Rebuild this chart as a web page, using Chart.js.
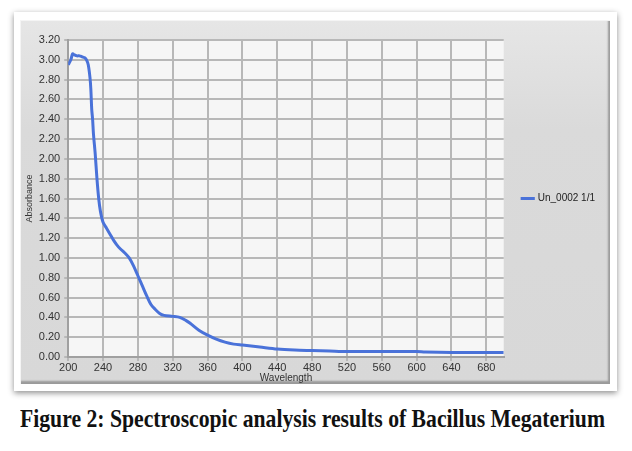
<!DOCTYPE html>
<html>
<head>
<meta charset="utf-8">
<script src="https://cdn.jsdelivr.net/npm/chart.js@4/dist/chart.umd.min.js"></script>
<style>
  body { margin: 0; background: #fff; width: 632px; height: 451px; position: relative; overflow: hidden; }
  .card {
    position: absolute; left: 14px; top: 12px; width: 603px; height: 379px;
    background: #fff; box-shadow: 0 2px 6px rgba(0,0,0,0.45);
  }
  .panel {
    position: absolute; left: 20px; top: 20px; width: 590px; height: 364px;
    background: linear-gradient(#e6e6e6, #dadada 30%, #d8d8d8);
    box-shadow: inset 1px 1px 0 #f4f4f4, inset -2px -3px 2px #9a9a9a;
  }
  .panel canvas { position: absolute; left: 0; top: 0; }
  .caption {
    position: absolute; left: 20px; top: 405px; white-space: nowrap;
    font-family: "Liberation Serif", "Times New Roman", serif; font-weight: bold;
    font-size: 25px; color: #111; transform-origin: 0 0;
  }
</style>
</head>
<body>
<div class="card"></div>
<div class="panel"><canvas id="chart_canvas" width="590" height="364"></canvas></div>
<div class="caption" id="caption">Figure 2: Spectroscopic analysis results of Bacillus Megaterium</div>
<script>
// 데이터
var wavelengths = [200, 203, 205, 207, 210, 213, 216, 219, 221, 223, 225, 226, 227, 228, 229, 231, 233, 235, 237, 240,
    244, 248, 252, 256, 260, 265, 270, 275, 280, 285, 290, 295, 300, 305, 310, 320, 328, 335, 340, 350,
    360, 370, 380, 390, 400, 420, 440, 460, 480, 500, 520, 560, 600, 610, 640, 680, 700];
var absorbance = [2.95, 3.00, 3.06, 3.05, 3.04, 3.04, 3.03, 3.02, 3.00, 2.95, 2.82, 2.70, 2.50, 2.40, 2.25, 2.05, 1.80, 1.60, 1.47, 1.36,
    1.30, 1.24, 1.18, 1.13, 1.09, 1.05, 1.00, 0.92, 0.82, 0.72, 0.62, 0.53, 0.48, 0.44, 0.42, 0.41, 0.40, 0.37, 0.34, 0.27,
    0.22, 0.18, 0.15, 0.13, 0.12, 0.10, 0.08, 0.07, 0.065, 0.06, 0.055, 0.055, 0.055, 0.05, 0.045, 0.045, 0.045];
var seriesName = 'Un_0002 1/1';
var xTicks = [200, 240, 280, 320, 360, 400, 440, 480, 520, 560, 600, 640, 680];

var points = wavelengths.map(function(w, i){ return { x: w, y: absorbance[i] }; });

// 플롯 배경
var plotBg = {
    id: 'plotBg',
    beforeDraw: function(chart){
        var a = chart.chartArea, ctx = chart.ctx;
        ctx.save();
        ctx.fillStyle = '#f6f6f6';
        ctx.fillRect(a.left, a.top, a.right - a.left, a.bottom - a.top);
        ctx.restore();
    }
};

var ctx = document.getElementById('chart_canvas');
var chart = new Chart(ctx, {
    type: 'line',
    data: {
        datasets: [{
            label: seriesName,
            data: points,
            borderColor: '#4a72d9',
            backgroundColor: '#4a72d9',
            borderWidth: 3,
            pointRadius: 0,
            tension: 0.3
        }]
    },
    options: {
        responsive: false,
        animation: false,
        layout: { padding: { top: 20, left: 4, right: 5, bottom: 0 } },
        scales: {
            x: {
                type: 'linear',
                min: 200,
                max: 700,
                afterBuildTicks: function(scale){
                    scale.ticks = xTicks.map(function(v){ return { value: v }; });
                },
                afterFit: function(scale){ scale.height = 27; },
                grid: { color: '#b8b8b8', lineWidth: 2, tickLength: 4 },
                border: { color: '#a0a0a0', width: 2 },
                ticks: { color: '#333', font: { family: 'Arial, "Liberation Sans"', size: 11 }, padding: 0, maxRotation: 0 },
                title: { display: true, text: 'Wavelength', color: '#333', font: { family: 'Arial, "Liberation Sans"', size: 10 }, padding: 0 }
            },
            y: {
                min: 0,
                max: 3.2,
                ticks: {
                    stepSize: 0.2,
                    color: '#333',
                    font: { family: 'Arial, "Liberation Sans"', size: 11 },
                    padding: 4,
                    callback: function(v){ return v.toFixed(2); }
                },
                grid: { color: '#b8b8b8', lineWidth: 2, tickLength: 4 },
                border: { color: '#a0a0a0', width: 2 },
                title: { display: true, text: 'Absorbance', color: '#333', font: { family: 'Arial, "Liberation Sans"', size: 9 }, padding: 0 }
            }
        },
        plugins: {
            legend: {
                position: 'right',
                fullSize: false,
                labels: {
                    color: '#222',
                    font: { family: 'Arial, "Liberation Sans"', size: 10 },
                    usePointStyle: true,
                    pointStyle: 'line',
                    boxWidth: 14,
                    padding: 19
                }
            },
            tooltip: { enabled: false }
        }
    },
    plugins: [plotBg]
});

// 캡션 폭 맞추기
var cap = document.getElementById('caption');
var w = cap.getBoundingClientRect().width;
cap.style.transform = 'scaleX(' + (585 / w) + ')';
</script>
</body>
</html>
